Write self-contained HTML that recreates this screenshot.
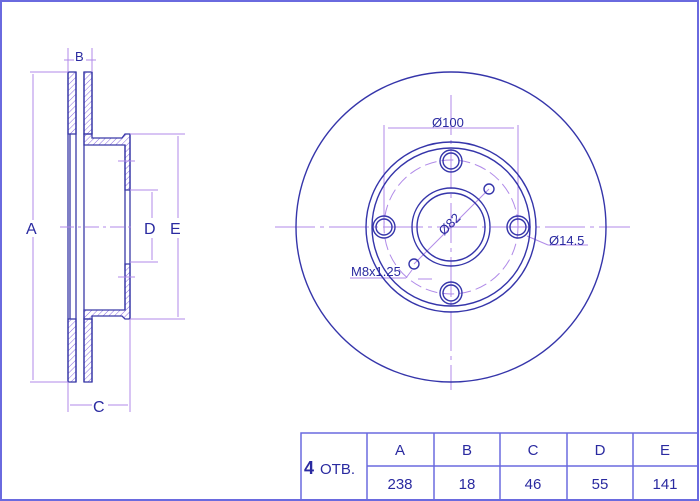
<!DOCTYPE html>
<html><head><meta charset="utf-8"><style>
html,body{margin:0;padding:0;background:#fff;width:700px;height:501px;overflow:hidden}
svg{display:block}
text{font-family:"Liberation Sans",sans-serif;fill:#2a2aa0}
</style></head><body>
<svg width="700" height="501" viewBox="0 0 700 501" xmlns="http://www.w3.org/2000/svg">
<defs>
<pattern id="h" width="4" height="4" patternUnits="userSpaceOnUse" patternTransform="rotate(45)">
<line x1="0" y1="0" x2="0" y2="4" stroke="#8a6ae0" stroke-width="1"/></pattern>
</defs>
<rect x="1" y="1" width="697" height="499" fill="none" stroke="#6a6adf" stroke-width="2"/>
<!-- left profile -->
<g stroke="#3a3aa8" stroke-width="1.3">
<rect x="68" y="72" width="8" height="62" fill="url(#h)"/>
<rect x="84" y="72" width="8" height="62" fill="url(#h)"/>
<rect x="68" y="319" width="8" height="63" fill="url(#h)"/>
<rect x="84" y="319" width="8" height="63" fill="url(#h)"/>
<path d="M84 134 L92 134 L92 138 L122 138 L125 134 L130 134 L130 190 L125 190 L125 145 L84 145 Z" fill="url(#h)"/>
<path d="M84 319 L92 319 L92 316 L122 316 L125 319 L130 319 L130 264 L125 264 L125 310 L84 310 Z" fill="url(#h)"/>
<line x1="70" y1="134" x2="70" y2="319"/>
<line x1="76" y1="72" x2="76" y2="382"/>
<line x1="84" y1="72" x2="84" y2="382"/>
<line x1="68" y1="72" x2="68" y2="382"/>
<line x1="92" y1="72" x2="92" y2="134"/><line x1="92" y1="319" x2="92" y2="382"/>
<line x1="130" y1="134" x2="130" y2="319"/>
<line x1="125" y1="145" x2="125" y2="310"/>
</g>
<g stroke="#b08ae8" stroke-width="1" fill="none">
<line x1="60" y1="227" x2="135" y2="227" stroke-dasharray="14 4 3 4"/>
<line x1="30" y1="72" x2="68" y2="72"/><line x1="30" y1="382" x2="68" y2="382"/>
<line x1="33" y1="74" x2="33" y2="220"/><line x1="33" y1="237" x2="33" y2="380"/>
<line x1="130" y1="134" x2="185" y2="134"/><line x1="130" y1="319" x2="185" y2="319"/>
<line x1="178" y1="136" x2="178" y2="218"/><line x1="178" y1="238" x2="178" y2="317"/>
<line x1="130" y1="190" x2="158" y2="190"/><line x1="130" y1="262" x2="158" y2="262"/>
<line x1="152" y1="192" x2="152" y2="218"/><line x1="152" y1="238" x2="152" y2="260"/>
<line x1="68" y1="382" x2="68" y2="412"/><line x1="130" y1="319" x2="130" y2="412"/>
<line x1="70" y1="405" x2="92" y2="405"/><line x1="108" y1="405" x2="128" y2="405"/>
<line x1="68" y1="48" x2="68" y2="72"/><line x1="92" y1="48" x2="92" y2="72"/>
<line x1="64" y1="60" x2="74" y2="60"/><line x1="86" y1="60" x2="96" y2="60"/>
<line x1="118" y1="161" x2="135" y2="161"/><line x1="118" y1="277" x2="135" y2="277"/>
</g>
<text x="26" y="234" font-size="16">A</text>
<text x="144" y="234" font-size="16">D</text>
<text x="170" y="234" font-size="16">E</text>
<text x="93" y="412" font-size="16">C</text>
<text x="75" y="61" font-size="13">B</text>
<!-- right disc -->
<g stroke="#b08ae8" stroke-width="1" fill="none">
<line x1="275" y1="227" x2="630" y2="227" stroke-dasharray="40 5 4 5"/>
<line x1="451" y1="95" x2="451" y2="390" stroke-dasharray="40 5 4 5"/>
<circle cx="451" cy="227" r="67" stroke-dasharray="12 5"/>
<line x1="384" y1="125" x2="384" y2="227"/><line x1="518" y1="125" x2="518" y2="227"/>
<line x1="388" y1="128" x2="514" y2="128"/>
<line x1="414" y1="264" x2="489" y2="189"/>
<line x1="527" y1="236" x2="548" y2="245"/><line x1="548" y1="245" x2="588" y2="245"/>
<line x1="350" y1="278" x2="406" y2="278"/><line x1="406" y1="278" x2="412" y2="270"/>
<line x1="418" y1="279" x2="432" y2="279"/>
</g>
<g stroke="#3535aa" stroke-width="1.4" fill="none">
<circle cx="451" cy="227" r="155"/>
<circle cx="451" cy="227" r="85"/>
<circle cx="451" cy="227" r="79"/>
<circle cx="451" cy="227" r="39"/>
<circle cx="451" cy="227" r="34"/>
<circle cx="384" cy="227" r="11"/><circle cx="384" cy="227" r="8"/>
<circle cx="518" cy="227" r="11"/><circle cx="518" cy="227" r="8"/>
<circle cx="451" cy="161" r="11"/><circle cx="451" cy="161" r="8"/>
<circle cx="451" cy="293" r="11"/><circle cx="451" cy="293" r="8"/>
<circle cx="489" cy="189" r="5"/><circle cx="414" cy="264" r="5"/>
</g>
<text x="432" y="127" font-size="13">Ø100</text>
<text x="0" y="0" font-size="13" transform="translate(444,236) rotate(-45)">Ø82</text>
<text x="549" y="245" font-size="13">Ø14.5</text>
<text x="351" y="276" font-size="13">M8x1.25</text>
<!-- table -->
<g stroke="#6a6adf" stroke-width="1.5" fill="none">
<rect x="301" y="433" width="397" height="67"/>
<line x1="367" y1="433" x2="367" y2="500"/>
<line x1="434" y1="433" x2="434" y2="500"/>
<line x1="500" y1="433" x2="500" y2="500"/>
<line x1="567" y1="433" x2="567" y2="500"/>
<line x1="633" y1="433" x2="633" y2="500"/>
<line x1="367" y1="466" x2="698" y2="466"/>
</g>
<text x="304" y="474" font-size="18" font-weight="bold">4</text>
<text x="320" y="474" font-size="15">ОТВ.</text>
<g font-size="15" text-anchor="middle">
<text x="400" y="455">A</text><text x="467" y="455">B</text><text x="533" y="455">C</text><text x="600" y="455">D</text><text x="665" y="455">E</text>
<text x="400" y="489">238</text><text x="467" y="489">18</text><text x="533" y="489">46</text><text x="600" y="489">55</text><text x="665" y="489">141</text>
</g>
</svg>
</body></html>
